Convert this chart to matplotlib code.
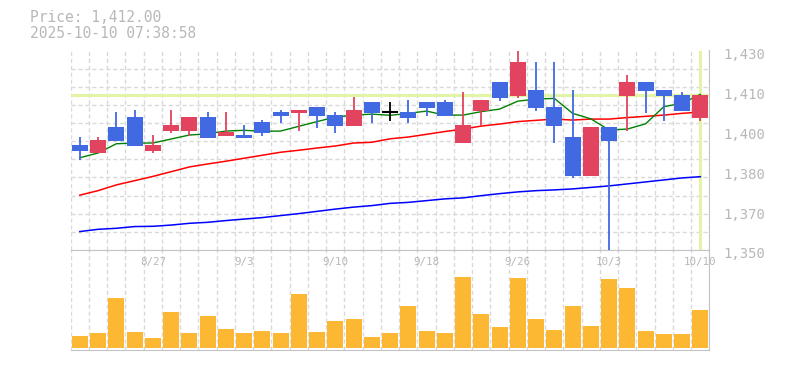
import numpy as np
import matplotlib
matplotlib.use("Agg")
import matplotlib.pyplot as plt
import matplotlib.transforms as mtransforms

# daily candles, 8/21 .. 10/10
opens = [1392.1, 1389.0, 1399.3, 1403.3, 1389.7, 1397.7, 1397.7, 1403.3, 1395.7, 1396.1,
         1401.3, 1405.3, 1404.9, 1407.3, 1404.1, 1399.7, 1409.3, 1405.3, 1405.3, 1409.3,
         1409.3, 1392.9, 1405.7, 1417.4, 1411.8, 1414.2, 1407.3, 1395.3, 1379.7, 1399.3,
         1411.8, 1417.4, 1414.2, 1412.2, 1403.1]
highs = [1395.3, 1395.3, 1405.3, 1406.1, 1396.1, 1406.1, 1403.3, 1405.3, 1405.3, 1400.1,
         1402.1, 1406.1, 1406.1, 1407.3, 1405.3, 1411.4, 1409.3, 1409.3, 1410.1, 1409.3,
         1410.1, 1413.4, 1410.1, 1417.4, 1431.0, 1425.4, 1425.4, 1414.2, 1399.3, 1399.3,
         1420.2, 1417.4, 1414.2, 1413.4, 1412.0]
lows = [1386.0, 1389.0, 1393.7, 1391.8, 1389.0, 1396.9, 1395.8, 1394.9, 1395.7, 1394.9,
        1395.8, 1400.9, 1397.7, 1398.9, 1396.9, 1399.7, 1400.9, 1401.7, 1400.9, 1403.7,
        1403.7, 1392.9, 1399.7, 1409.7, 1410.9, 1405.7, 1392.9, 1378.9, 1379.7, 1349.0,
        1397.7, 1404.9, 1401.7, 1405.7, 1401.7]
closes = [1389.7, 1394.1, 1393.7, 1391.8, 1392.1, 1400.1, 1403.3, 1394.9, 1397.3, 1394.9,
          1396.9, 1403.7, 1406.1, 1403.7, 1399.7, 1406.1, 1404.9, 1405.3, 1402.9, 1406.9,
          1403.7, 1400.1, 1410.1, 1410.9, 1425.4, 1406.9, 1399.7, 1379.7, 1399.3, 1393.7,
          1417.4, 1413.8, 1411.8, 1405.7, 1412.0]
volumes = [35, 44, 149, 47, 29, 107, 44, 95, 56, 44, 50, 44, 161, 47, 80, 86, 32, 44,
           125, 50, 44, 212, 101, 62, 209, 86, 53, 125, 65, 206, 179, 50, 41, 41, 113]

ma5 = [1387.0, 1388.9, 1392.6, 1392.9, 1392.9, 1394.5, 1396.1, 1396.6, 1397.7, 1398.0,
       1397.6, 1397.7, 1399.6, 1401.5, 1403.3, 1404.1, 1404.5, 1404.0, 1404.8, 1405.7,
       1404.1, 1404.1, 1405.5, 1406.5, 1409.7, 1410.5, 1410.8, 1404.8, 1402.6, 1398.1,
       1398.5, 1400.6, 1407.5, 1408.8, 1412.4]
ma25 = [1372.0, 1373.8, 1376.1, 1377.8, 1379.5, 1381.4, 1383.3, 1384.5, 1385.6, 1386.8,
        1388.0, 1389.2, 1390.0, 1390.9, 1391.7, 1392.9, 1393.2, 1394.6, 1395.3, 1396.4,
        1397.5, 1398.5, 1399.7, 1400.5, 1401.5, 1402.0, 1402.5, 1402.1, 1402.5, 1402.5,
        1403.1, 1403.6, 1404.1, 1404.8, 1405.3]
ma75 = [1357.4, 1358.3, 1358.7, 1359.4, 1359.5, 1360.0, 1360.7, 1361.1, 1361.8, 1362.4,
        1363.0, 1363.8, 1364.6, 1365.5, 1366.4, 1367.2, 1367.8, 1368.7, 1369.1, 1369.8,
        1370.5, 1370.9, 1371.8, 1372.6, 1373.3, 1373.8, 1374.1, 1374.5, 1375.1, 1375.7,
        1376.5, 1377.3, 1378.1, 1378.9, 1379.4]

date_pos = [4, 9, 14, 19, 24, 29, 34]
date_labels = ["8/27", "9/3", "9/10", "9/18", "9/26", "10/3", "10/10"]
ytick_vals = [1350, 1366, 1382, 1398, 1414, 1430]
ytick_labels = ["1,350", "1,370", "1,380", "1,400", "1,410", "1,430"]
last_price = 1412.0

UP = "#e2445f"
DOWN = "#4169e1"
TXT = "#b8b8b8"
BORDER = "#c4c4c4"
GRID = "#d9d9d9"
MARK = "#e2f5a6"
plt.rcParams["font.family"] = "DejaVu Sans Mono"
plt.rcParams["lines.scale_dashes"] = False

W, H = 785, 370
fig = plt.figure(figsize=(W / 100, H / 100), dpi=100)
x0, x1 = 70.7, 709.5
ax = fig.add_axes([x0 / W, 1 - 250 / H, (x1 - x0) / W, (250 - 50.5) / H])
axv = fig.add_axes([x0 / W, 1 - 350 / H, (x1 - x0) / W, (350 - 250) / H])

n = len(closes)
x = np.arange(n)
dash = (0, (3, 2))

for a in (ax, axv):
    a.set_xlim(-0.5, n - 0.5)
    a.set_xticks(np.arange(-0.5, n, 1), minor=True)
    a.set_xticks([])
    a.grid(which="minor", axis="x", color=GRID, lw=1, ls=dash, zorder=0)
    a.tick_params(which="both", length=0)
    a.spines["left"].set_visible(False)
    for s in ("right", "bottom", "top"):
        a.spines[s].set_color(BORDER)
    a.set_axisbelow(True)
ax.spines["top"].set_visible(False)

ax.set_ylim(1350, 1430)
ax.set_yticks(1350 + np.arange(1, 12) * 80 / 11, minor=True)
ax.grid(which="minor", axis="y", color=GRID, lw=1, ls=dash, zorder=0)
ax.yaxis.tick_right()
ax.set_yticks(ytick_vals, ytick_labels)
ax.tick_params(axis="y", which="major", pad=10, labelsize=10, labelcolor=TXT)
off = mtransforms.ScaledTranslation(0, -3 / 100, fig.dpi_scale_trans)
for lab in ax.get_yticklabels():
    lab.set_transform(lab.get_transform() + off)

# current price marker lines
ax.axhline(last_price, color=MARK, lw=2.2, zorder=1)
ax.axvline(x[-1], color=MARK, lw=2.2, zorder=1)

ax.plot(x, ma75, color="#0000ff", lw=1.1, zorder=2)
ax.plot(x, ma25, color="#ff0000", lw=1.1, zorder=2)
ax.plot(x, ma5, color="#008000", lw=1.0, zorder=2)

for i in range(n):
    o, h, l, c = opens[i], highs[i], lows[i], closes[i]
    if c > o:
        col = UP
    elif c < o:
        col = DOWN
    else:
        col = "black"
    ax.vlines(i, l, h, color=col, lw=1.3, zorder=3)
    if c == o:
        ax.hlines(c, i - 0.44, i + 0.44, color=col, lw=1.5, zorder=4)
    else:
        ax.bar(i, abs(c - o), bottom=min(o, c), width=0.88, color=col, zorder=4)

axv.bar(x, volumes, width=0.88, color="#fdb833", zorder=2)
axv.set_ylim(-7, 291)
axv.set_yticks([])
tr = mtransforms.blended_transform_factory(axv.transData, axv.transAxes)
for p, lab in zip(date_pos, date_labels):
    axv.text(p, 0.88, lab, transform=tr, ha="center", va="center",
             fontsize=7.8, color=TXT)

fig.text(30 / W, 1 - 17.5 / H, "Price: 1,412.00", fontsize=10.5, color=TXT, va="center")
fig.text(30 / W, 1 - 33 / H, "2025-10-10 07:38:58", fontsize=10.5, color=TXT, va="center")

fig.savefig("out.png", dpi=100)
